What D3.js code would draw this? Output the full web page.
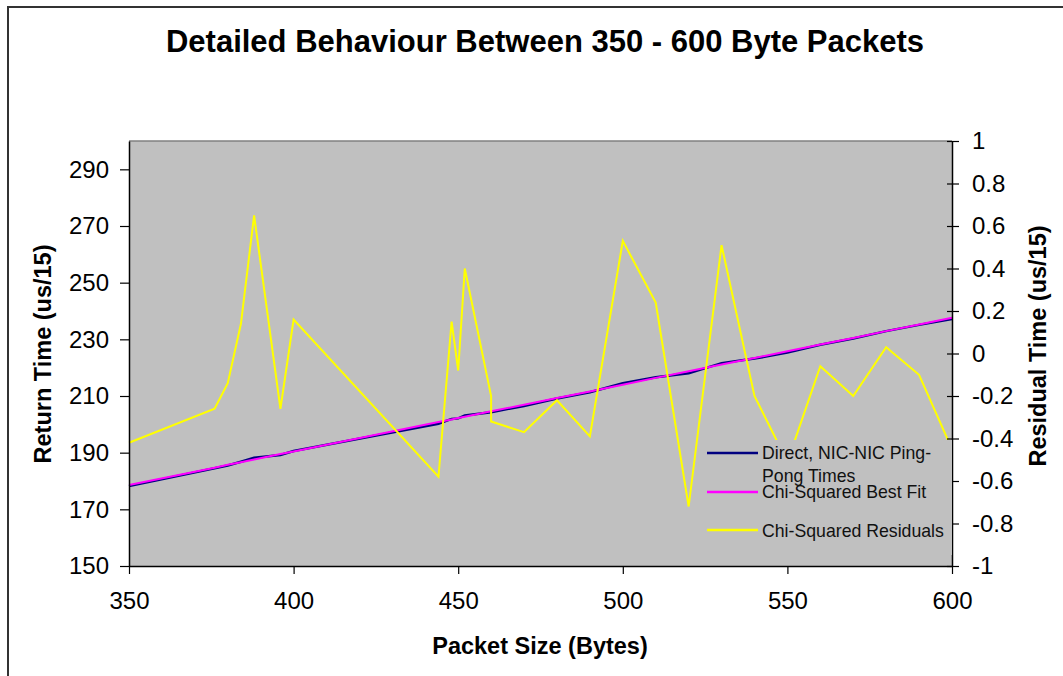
<!DOCTYPE html>
<html>
<head>
<meta charset="utf-8">
<script src="https://cdn.jsdelivr.net/npm/d3@7"></script>
<style>
  body { margin: 0; background: #fff; }
  svg { display: block; font-family: "Liberation Sans", Arial, sans-serif; }
</style>
</head>
<body>
<svg id="chart"></svg>
<script>
// data
const sizes = [350, 376, 380, 384, 388, 396, 400, 444, 448, 450, 452, 460, 470, 480, 490, 500, 510, 520, 530, 540, 550, 560, 570, 580, 590, 600];
const pingPong = [178.2, 184.5, 185.5, 186.8, 188.2, 189.2, 190.6, 200.2, 201.9, 202.1, 203.1, 204.3, 206.5, 209.1, 211.3, 214.5, 216.6, 218.0, 221.6, 223.2, 225.3, 228.1, 230.3, 232.9, 235.1, 237.2];
const bestFit = [178.6, 184.7, 185.7, 186.6, 187.6, 189.5, 190.4, 200.8, 201.7, 202.2, 202.7, 204.6, 206.9, 209.3, 211.6, 214.0, 216.4, 218.7, 221.1, 223.4, 225.8, 228.2, 230.5, 232.9, 235.2, 237.6];
const residSizes = [350, 376, 380, 384, 388, 396, 400, 444, 448, 450, 452, 460, 460, 470, 480, 490, 500, 510, 520, 530, 540, 550, 560, 570, 580, 590, 600];
const residuals = [-0.42, -0.26, -0.14, 0.14, 0.65, -0.26, 0.16, -0.58, 0.15, -0.08, 0.40, -0.20, -0.32, -0.37, -0.22, -0.39, 0.53, 0.24, -0.72, 0.51, -0.20, -0.51, -0.06, -0.20, 0.03, -0.10, -0.45];

const xTicks = [350, 400, 450, 500, 550, 600];
const leftTicks = [150, 170, 190, 210, 230, 250, 270, 290];
const rightTicks = [-1, -0.8, -0.6, -0.4, -0.2, 0, 0.2, 0.4, 0.6, 0.8, 1];

const seriesNames = ["Direct, NIC-NIC Ping-Pong Times", "Chi-Squared Best Fit", "Chi-Squared Residuals"];
const seriesColors = ["#000080", "#ff00ff", "#ffff00"];

const svgWidth = 1063, svgHeight = 676;
const plot = { left: 129, right: 952, top: 141, bottom: 566 };

const svg = d3.select("#chart")
    .attr("width", svgWidth)
    .attr("height", svgHeight);

// outer frame (runs off the right and bottom edges)
svg.append("rect")
    .attr("x", 8).attr("y", 7)
    .attr("width", 1100).attr("height", 720)
    .attr("fill", "#fff")
    .attr("stroke", "#333").attr("stroke-width", 2);

const x = d3.scaleLinear().domain([350, 600]).range([plot.left, plot.right]);
const yLeft = d3.scaleLinear().domain([150, 300]).range([plot.bottom, plot.top]);
const yRight = d3.scaleLinear().domain([-1, 1]).range([plot.bottom, plot.top]);

// plot background
svg.append("rect")
    .attr("x", plot.left).attr("y", plot.top)
    .attr("width", plot.right - plot.left).attr("height", plot.bottom - plot.top)
    .attr("fill", "#c0c0c0");

svg.append("line")
    .attr("x1", plot.left).attr("x2", plot.right)
    .attr("y1", plot.top).attr("y2", plot.top)
    .attr("stroke", "#808080").attr("stroke-width", 1.5);

// lines
const lineLeft = d3.line().x(d => x(d[0])).y(d => yLeft(d[1]));
const lineRight = d3.line().x(d => x(d[0])).y(d => yRight(d[1]));

svg.append("path")
    .datum(d3.zip(sizes, pingPong))
    .attr("d", lineLeft)
    .attr("fill", "none").attr("stroke", seriesColors[0]).attr("stroke-width", 2.5);

svg.append("path")
    .datum(d3.zip(sizes, bestFit))
    .attr("d", lineLeft)
    .attr("fill", "none").attr("stroke", seriesColors[1]).attr("stroke-width", 2);

svg.append("path")
    .datum(d3.zip(residSizes, residuals))
    .attr("d", lineRight)
    .attr("fill", "none").attr("stroke", seriesColors[2]).attr("stroke-width", 2)
    .attr("stroke-linejoin", "miter");

// axes
function styleAxis(g) {
    g.selectAll("path.domain").attr("stroke", "#000").attr("stroke-width", 1.5);
    g.selectAll(".tick line").attr("stroke", "#000").attr("stroke-width", 1.2);
    g.selectAll("text").attr("font-size", 24).attr("fill", "#000")
        .attr("font-family", "'Liberation Sans', Arial, sans-serif");
}

svg.append("g")
    .attr("transform", `translate(0,${plot.bottom})`)
    .call(d3.axisBottom(x).tickValues(xTicks).tickSize(8).tickPadding(18).tickSizeOuter(0))
    .call(styleAxis);

svg.append("g")
    .attr("transform", `translate(${plot.left},0)`)
    .call(d3.axisLeft(yLeft).tickValues(leftTicks).tickSize(9).tickPadding(11).tickSizeOuter(0))
    .call(styleAxis);

const rightAxis = svg.append("g")
    .attr("transform", `translate(${plot.right},0)`)
    .call(d3.axisRight(yRight).tickValues(rightTicks)
        .tickFormat(d => d3.format("~g")(d).replace("\u2212", "-"))
        .tickSize(7).tickPadding(13).tickSizeOuter(0))
    .call(styleAxis);
rightAxis.selectAll(".tick line").attr("x1", -5);

// titles
svg.append("text")
    .attr("x", 545).attr("y", 52)
    .attr("text-anchor", "middle")
    .attr("font-size", 31).attr("font-weight", "bold")
    .text("Detailed Behaviour Between 350 - 600 Byte Packets");

svg.append("text")
    .attr("x", 540).attr("y", 654)
    .attr("text-anchor", "middle")
    .attr("font-size", 23.5).attr("font-weight", "bold")
    .text("Packet Size (Bytes)");

svg.append("text")
    .attr("transform", `translate(51,354) rotate(-90)`)
    .attr("text-anchor", "middle")
    .attr("font-size", 23.5).attr("font-weight", "bold")
    .text("Return Time (us/15)");

svg.append("text")
    .attr("transform", `translate(1046,346) rotate(-90)`)
    .attr("text-anchor", "middle")
    .attr("font-size", 23.5).attr("font-weight", "bold")
    .text("Residual Time (us/15)");

// legend
const legend = svg.append("g").attr("transform", "translate(700,440)");
legend.append("rect")
    .attr("width", 252).attr("height", 115)
    .attr("fill", "#c0c0c0");

const legendRows = [
    { lineY: 13, lines: ["Direct, NIC-NIC Ping-", "Pong Times"], textY: 19 },
    { lineY: 52, lines: ["Chi-Squared Best Fit"], textY: 58 },
    { lineY: 90, lines: ["Chi-Squared Residuals"], textY: 97 }
];
legendRows.forEach((row, i) => {
    legend.append("line")
        .attr("x1", 7).attr("x2", 58)
        .attr("y1", row.lineY).attr("y2", row.lineY)
        .attr("stroke", seriesColors[i]).attr("stroke-width", 2.5);
    const t = legend.append("text")
        .attr("x", 62).attr("y", row.textY)
        .attr("font-size", 17.7).attr("fill", "#111");
    row.lines.forEach((s, j) => {
        t.append("tspan").attr("x", 62).attr("dy", j === 0 ? 0 : 23).text(s);
    });
});
</script>
</body>
</html>
